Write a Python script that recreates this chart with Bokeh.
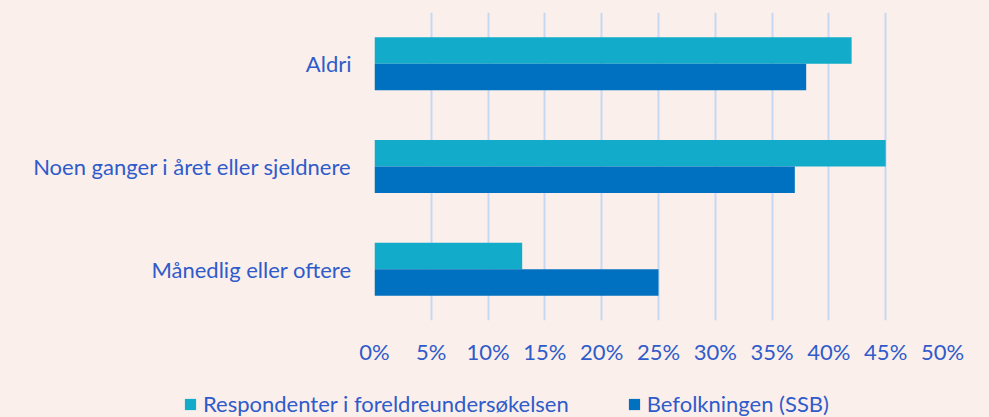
from bokeh.plotting import figure
from bokeh.layouts import column, row
from bokeh.models import (ColumnDataSource, FactorRange, Range1d, FixedTicker,
                          PrintfTickFormatter, Legend, LegendItem)
from bokeh.transform import dodge
from bokeh.embed import file_html
from bokeh.resources import INLINE

categories = ["Aldri", "Noen ganger i året eller sjeldnere", "Månedlig eller oftere"]
respondenter = [42, 45, 13]
befolkningen = [38, 37, 25]
series_names = ["Respondenter i foreldreundersøkelsen", "Befolkningen (SSB)"]
series_colors = ["#12ABC9", "#0070C0"]
x_ticks = [0, 5, 10, 15, 20, 25, 30, 35, 40, 45, 50]

BG = "#FAEFEA"
TEXT = "#2F5BCB"
FONT = "Lato"
FS = "22px"

source = ColumnDataSource(dict(cat=categories, resp=respondenter, bef=befolkningen))

p = figure(width=989, height=375,
           y_range=FactorRange(factors=list(reversed(categories)), range_padding=0),
           x_range=Range1d(0, 50),
           output_backend="svg", toolbar_location=None,
           min_border_left=374, min_border_right=47,
           min_border_top=12, min_border_bottom=55)

p.background_fill_color = BG
p.border_fill_color = BG
p.outline_line_color = None

p.hbar(y=dodge("cat", 0.129, range=p.y_range), right="resp", left=0,
       height=0.258, source=source, fill_color=series_colors[0], line_color=None)
p.hbar(y=dodge("cat", -0.129, range=p.y_range), right="bef", left=0,
       height=0.258, source=source, fill_color=series_colors[1], line_color=None)

p.ygrid.grid_line_color = None
p.xgrid.grid_line_color = "#C9D8F2"
p.xgrid.grid_line_width = 2
p.xaxis.ticker = FixedTicker(ticks=x_ticks)
p.xaxis.formatter = PrintfTickFormatter(format="%d%%")

for ax in (p.xaxis[0], p.yaxis[0]):
    ax.axis_line_color = None
    ax.major_tick_line_color = None
    ax.minor_tick_line_color = None
    ax.major_tick_out = 0
    ax.major_tick_in = 0
    ax.major_label_text_font = FONT
    ax.major_label_text_font_size = FS
    ax.major_label_text_color = TEXT
p.xaxis.major_label_standoff = 17
p.yaxis.major_label_standoff = 23

# legend strip (separate small figure; its own renderers are hidden)
lf = figure(width=989, height=42, output_backend="svg", toolbar_location=None,
            x_range=Range1d(0, 1), y_range=Range1d(0, 1),
            x_axis_location=None, y_axis_location=None,
            min_border_left=0, min_border_right=0, min_border_top=0, min_border_bottom=0)
lf.background_fill_color = BG
lf.border_fill_color = BG
lf.outline_line_color = None
lf.grid.grid_line_color = None
lr = [lf.hbar(y=col, right=col, left=0, height=1, source=source,
              fill_color=c, line_color=None, visible=False)
      for c, col in zip(series_colors, ["resp", "bef"])]

legend = Legend(items=[LegendItem(label=n, renderers=[r]) for n, r in zip(series_names, lr)],
                location=(183, 0), orientation="horizontal",
                background_fill_alpha=0, border_line_color=None,
                inactive_fill_alpha=0,
                padding=0, margin=0, spacing=58,
                glyph_width=14, glyph_height=14, label_standoff=6,
                label_text_font=FONT, label_text_font_size=FS,
                label_text_color=TEXT)
lf.add_layout(legend, "center")

layout = column(p, row(lf, styles={"background-color": BG}), spacing=0,
                styles={"background-color": BG})
open("out.html", "w").write(file_html(layout, INLINE))
